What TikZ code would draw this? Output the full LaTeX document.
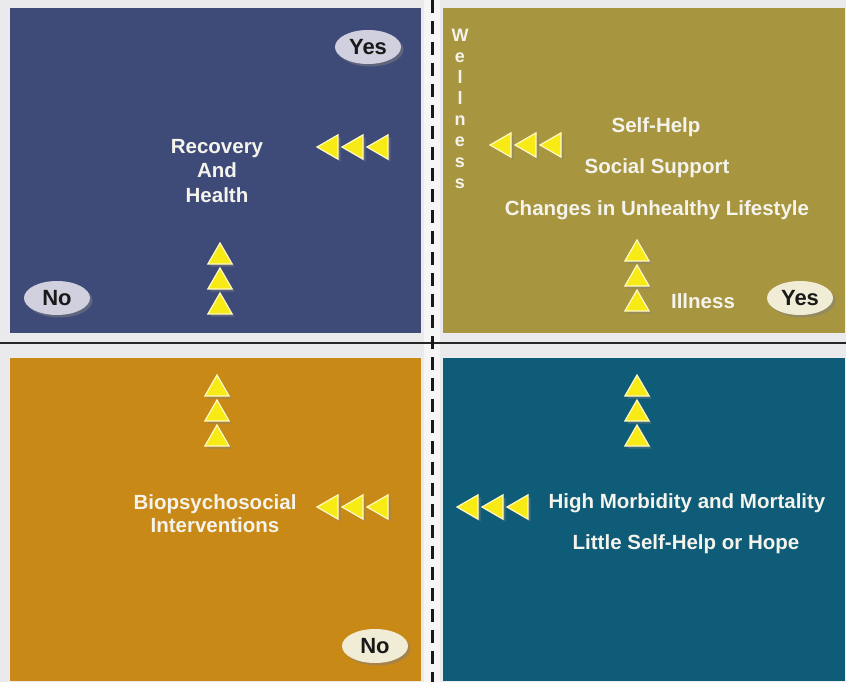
\documentclass[tikz,border=0pt]{standalone}
\usepackage{fontspec}
\setmainfont{Liberation Sans}
\usetikzlibrary{positioning,shapes,shadows}
\pgfdeclarelayer{bg}
\pgfsetlayers{bg,main}
\definecolor{panelblue}{RGB}{62,75,120}
\definecolor{panelolive}{RGB}{168,149,64}
\definecolor{panelorange}{RGB}{201,137,22}
\definecolor{panelteal}{RGB}{14,92,120}
\definecolor{triyellow}{RGB}{248,234,20}
\definecolor{tripale}{RGB}{255,250,196}
\definecolor{ovalgrey}{RGB}{208,208,222}
\definecolor{ovalcream}{RGB}{240,236,214}
\definecolor{pagegrey}{RGB}{234,234,237}
\definecolor{quadwhite}{RGB}{244,243,236}

\begin{document}
\begin{tikzpicture}[x=1pt,y=-1pt,
  panel/.style={draw=white!85!gray, line width=1pt},
  quadtext/.style={text=quadwhite, font=\bfseries\fontsize{20.5}{24.5}\selectfont, inner sep=0pt, align=center},
  tri/.style={regular polygon, regular polygon sides=3, minimum size=28pt, inner sep=0pt, outer sep=0pt,
    fill=triyellow, draw=tripale, line width=1.2pt,
    drop shadow={opacity=.45, shadow xshift=2.5pt, shadow yshift=-2.5pt}},
  uptri/.style={tri},
  lefttri/.style={tri, shape border rotate=90},
  oval/.style={ellipse, minimum width=66pt, minimum height=34pt, inner sep=0pt, text=black!90,
    font=\bfseries\fontsize{22}{22}\selectfont,
    drop shadow={opacity=.5, shadow xshift=2.5pt, shadow yshift=-2.5pt}}]
  \useasboundingbox (0,0) rectangle (846,682);

  \node[oval, fill=ovalgrey] (yesTL) at (368,47) {Yes};
  \node[oval, fill=ovalgrey] (noTL) at (57,298) {No};
  \node[quadtext, anchor=north] (recovery) at (217,139) {Recovery\\And\\Health};
  \node[lefttri, anchor=west] (rl1) at (317,147) {};
  \node[lefttri] (rl2) [right = 4pt of rl1] {};
  \node[lefttri] (rl3) [right = 4pt of rl2] {};
  \node[uptri, anchor=north] (ru1) at (220,243) {};
  \node[uptri] (ru2) [below = 4pt of ru1] {};
  \node[uptri] (ru3) [below = 4pt of ru2] {};

  \node[text=quadwhite, font=\bfseries\fontsize{18}{21}\selectfont, inner sep=0pt, align=center, anchor=north]
    (wellness) at (460,28.5) {W\\e\\l\\l\\n\\e\\s\\s};
  \node[lefttri, anchor=west] (wl1) at (490,145) {};
  \node[lefttri] (wl2) [right = 4pt of wl1] {};
  \node[lefttri] (wl3) [right = 4pt of wl2] {};
  \node[quadtext, anchor=base] (selfhelp) at (656,133) {Self-Help};
  \node[quadtext, anchor=base] (social) at (657,173) {Social Support};
  \node[quadtext, anchor=base] (changes) at (657,215) {Changes in Unhealthy Lifestyle};
  \node[uptri, anchor=north] (iu1) at (637,240) {};
  \node[uptri] (iu2) [below = 4pt of iu1] {};
  \node[uptri] (iu3) [below = 4pt of iu2] {};
  \node[quadtext, anchor=base] (illness) at (703,308) {Illness};
  \node[oval, fill=ovalcream] (yesTR) at (800,298) {Yes};

  \node[uptri, anchor=north] (bu1) at (217,375) {};
  \node[uptri] (bu2) [below = 4pt of bu1] {};
  \node[uptri] (bu3) [below = 4pt of bu2] {};
  \node[quadtext, font=\bfseries\fontsize{20.5}{23}\selectfont, anchor=north] (biopsycho) at (215,494) {Biopsychosocial\\Interventions};
  \node[lefttri, anchor=west] (bl1) at (317,507) {};
  \node[lefttri] (bl2) [right = 4pt of bl1] {};
  \node[lefttri] (bl3) [right = 4pt of bl2] {};
  \node[oval, fill=ovalcream] (noBL) at (375,646) {No};

  \node[uptri, anchor=north] (mu1) at (637,375) {};
  \node[uptri] (mu2) [below = 4pt of mu1] {};
  \node[uptri] (mu3) [below = 4pt of mu2] {};
  \node[lefttri, anchor=west] (ml1) at (457,507) {};
  \node[lefttri] (ml2) [right = 4pt of ml1] {};
  \node[lefttri] (ml3) [right = 4pt of ml2] {};
  \node[quadtext, anchor=base] (morbidity) at (687,508) {High Morbidity and Mortality};
  \node[quadtext, anchor=base] (hope) at (686,549) {Little Self-Help or Hope};

  \begin{pgfonlayer}{bg}
    \fill[pagegrey] (0,0) rectangle (846,682);
    \fill[white, opacity=.6] (424,0) rectangle (440,682);
    \draw[panel, fill=panelblue] (9,8) rectangle (421,333);
    \draw[panel, fill=panelolive] (442,8) rectangle (845,333);
    \draw[panel, fill=panelorange] (9,357) rectangle (421,681);
    \draw[panel, fill=panelteal] (442,357) rectangle (845,681);
    \draw[line width=2.5pt, black!85] (0,343) -- (846,343);
    \draw[line width=3pt, black!90, dash pattern=on 13pt off 8pt] (432,0) -- (432,682);
  \end{pgfonlayer}
\end{tikzpicture}
\end{document}
